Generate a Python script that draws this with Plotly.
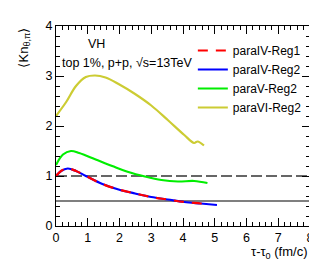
import plotly.graph_objects as go

# --- data ---
x_vi = [0.0, 0.32, 0.63, 0.94, 1.23, 1.56, 1.97, 2.49, 3.0, 3.52, 4.04, 4.35, 4.46, 4.66]
y_vi = [2.2, 2.48, 2.80, 2.98, 3.01, 2.97, 2.84, 2.64, 2.41, 2.12, 1.82, 1.66, 1.69, 1.61]

x_v = [0.0, 0.22, 0.47, 0.73, 1.25, 1.77, 2.28, 2.80, 3.32, 3.84, 4.35, 4.77]
y_v = [1.22, 1.43, 1.50, 1.46, 1.33, 1.20, 1.08, 0.99, 0.92, 0.89, 0.90, 0.86]

x_iv2 = [0.0, 0.16, 0.37, 0.63, 0.94, 1.46, 1.97, 2.49, 3.0, 3.52, 4.04, 4.56, 5.07]
y_iv2 = [1.0, 1.10, 1.15, 1.10, 1.0, 0.84, 0.73, 0.65, 0.58, 0.53, 0.48, 0.45, 0.42]

x_iv1 = [0.0, 0.16, 0.37, 0.63, 0.94, 1.46, 1.97, 2.49, 3.0, 3.52, 4.04, 4.56, 4.84]
y_iv1 = [1.0, 1.10, 1.15, 1.10, 1.0, 0.84, 0.73, 0.65, 0.58, 0.53, 0.48, 0.45, 0.43]

ref_dashed = 1.0
ref_solid = 0.5
x_range = [0, 8]
y_range = [0, 4]

FONT = "Liberation Sans, Arial, sans-serif"

fig = go.Figure()
fig.add_trace(go.Scatter(x=x_range, y=[ref_dashed, ref_dashed], mode="lines",
                         line=dict(color="#666666", width=2, dash="11px,4px"),
                         showlegend=False, hoverinfo="skip"))
fig.add_trace(go.Scatter(x=x_range, y=[ref_solid, ref_solid], mode="lines",
                         line=dict(color="#555555", width=1.5),
                         showlegend=False, hoverinfo="skip"))
fig.add_trace(go.Scatter(x=x_iv2, y=y_iv2, mode="lines", name="paraIV-Reg2",
                         line=dict(color="#0000ff", width=2.2, shape="spline"), legendrank=2))
fig.add_trace(go.Scatter(x=x_iv1, y=y_iv1, mode="lines", name="paraIV-Reg1",
                         line=dict(color="#ff0000", width=2.2, dash="10px,8px", shape="spline"),
                         legendrank=1))
fig.add_trace(go.Scatter(x=x_v, y=y_v, mode="lines", name="paraV-Reg2",
                         line=dict(color="#00ee00", width=2.2, shape="spline"), legendrank=3))
fig.add_trace(go.Scatter(x=x_vi, y=y_vi, mode="lines", name="paraVI-Reg2",
                         line=dict(color="#cccc33", width=2.2, shape="spline"), legendrank=4))

axis_common = dict(showline=True, linecolor="black", linewidth=1, mirror="ticks",
                   ticks="inside", ticklen=8, tickcolor="black", tickwidth=1,
                   showgrid=False, zeroline=False,
                   tickfont=dict(family=FONT, size=12.5, color="black"))
fig.update_xaxes(range=x_range, dtick=1, tick0=0,
                 minor=dict(dtick=0.2, ticks="inside", ticklen=4, tickcolor="black", showgrid=False),
                 **axis_common)
fig.update_yaxes(range=y_range, dtick=1, tick0=0,
                 minor=dict(dtick=0.2, ticks="inside", ticklen=4, tickcolor="black", showgrid=False),
                 **axis_common)

fig.update_layout(
    width=317, height=260,
    margin=dict(l=48, r=11, t=14, b=42),
    paper_bgcolor="white", plot_bgcolor="white",
    font=dict(family=FONT, size=12.5, color="black"),
    legend=dict(x=(187 - 48) / 258, y=0.95, xanchor="left", yanchor="top",
                bgcolor="rgba(0,0,0,0)", font=dict(size=12),
                tracegroupgap=0, itemwidth=30),
    annotations=[
        dict(text="VH", xref="paper", yref="paper", x=(78 - 48) / 258, y=(218 - 32) / 204,
             xanchor="left", yanchor="middle", showarrow=False, font=dict(size=12.5)),
        dict(text="top 1%, p+p, √s=13TeV", xref="paper", yref="paper",
             x=(52 - 48) / 258, y=(218 - 52) / 204,
             xanchor="left", yanchor="middle", showarrow=False, font=dict(size=12.5)),
        dict(text="⟨Kn<sub>θ,π</sub>⟩", xref="paper", yref="paper",
             x=(15 - 48) / 258, y=1.0, xanchor="center", yanchor="top",
             textangle=-90, showarrow=False, font=dict(size=13)),
        dict(text="τ-τ<sub>0</sub> (fm/c)", xref="paper", yref="paper",
             x=1.0, y=-(234 - 218) / 204, xanchor="right", yanchor="top",
             showarrow=False, font=dict(size=13)),
    ],
)

fig.write_html("out.html")
